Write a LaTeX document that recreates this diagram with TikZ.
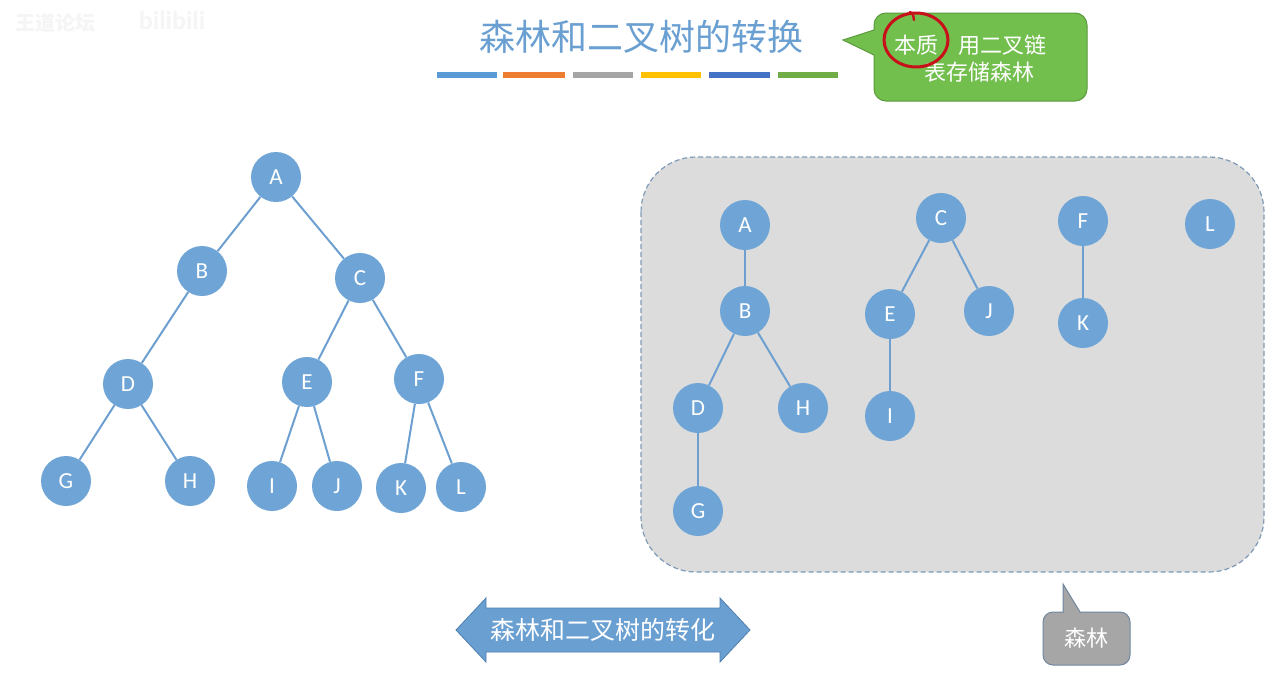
\documentclass[tikz,border=0pt]{standalone}
\usepackage{fontspec}
\setmainfont{Carlito}
\newfontfamily\cjk{Noto Sans CJK SC}
\definecolor{nodeblue}{HTML}{6FA5D6}
\definecolor{edgeblue}{HTML}{6DA0D0}
\definecolor{titleblue}{HTML}{6A9FD2}
\definecolor{boxgray}{HTML}{DCDCDC}
\definecolor{dashcol}{HTML}{7F9AB8}
\definecolor{cbBlue}{HTML}{5B9BD5}
\definecolor{cbOrange}{HTML}{ED7D31}
\definecolor{cbGray}{HTML}{A5A5A5}
\definecolor{cbYellow}{HTML}{FFC000}
\definecolor{cbDark}{HTML}{4472C4}
\definecolor{cbGreen}{HTML}{70AD47}
\definecolor{callgreen}{HTML}{72BF4E}
\definecolor{callgreenb}{HTML}{5A9A3C}
\definecolor{arrowfill}{HTML}{6A9FD2}
\definecolor{arrowline}{HTML}{4F7FB0}
\definecolor{callgray}{HTML}{A6A6A6}
\definecolor{callgrayb}{HTML}{6F86A0}
\definecolor{redmark}{HTML}{C8101A}
\tikzset{
  tnode/.style={circle, fill=nodeblue, draw=none, minimum size=50pt, inner sep=0pt, text=white, font=\fontsize{23}{23}\selectfont},
  tedge/.style={draw=edgeblue, line width=2pt},
  cbar/.style={line width=6pt},
  wtext/.style={text=white, font=\cjk\fontsize{22}{26}\selectfont}
}
\begin{document}
\begin{tikzpicture}[x=1pt,y=-1pt]
\useasboundingbox[fill=white] (0,0) rectangle (1279,678);
% watermark
\node[text=black!4, font=\cjk\fontsize{20}{20}\selectfont\bfseries] (wm1) at (55,23) {王道论坛};
\node[text=black!4, font=\fontsize{26}{26}\selectfont\bfseries] (wm2) at (172,20) {bilibili};
% title
\node[text=titleblue, font=\cjk\fontsize{36}{36}\selectfont] (title) at (641,37) {森林和二叉树的转换};
\draw[cbar, cbBlue] (437,75) -- (497,75);
\draw[cbar, cbOrange] (503,75) -- (565,75);
\draw[cbar, cbGray] (573,75) -- (633,75);
\draw[cbar, cbYellow] (641,75) -- (701,75);
\draw[cbar, cbDark] (709,75) -- (770,75);
\draw[cbar, cbGreen] (778,75) -- (838,75);
% green callout
\draw[fill=callgreen, draw=callgreenb, line width=1pt]
  (874,30) [rounded corners=12pt] -- (874,13) -- (1087,13) -- (1087,101) -- (874,101) [sharp corners] -- (874,55) -- (843,40) -- cycle;
\node[wtext, anchor=west] (cl1) at (891,45) {本质\hspace{0.9em}用二叉链};
\node[wtext] (cl2) at (979,72) {表存储森林};
\draw[redmark, line width=3pt, line cap=round] (916,40) ellipse (32pt and 27pt);
\draw[redmark, line width=2.5pt, line cap=round] (910,12) .. controls (913,14) .. (914,20);
% forest box
\draw[fill=boxgray, draw=dashcol, line width=1.2pt, dash pattern=on 5pt off 3pt, rounded corners=55pt] (641,157) rectangle (1264,572);
% left tree
\node[tnode] (A) at (276,177) {A};
\node[tnode] (B) at (202,271) {B};
\node[tnode] (C) at (360,278) {C};
\node[tnode] (D) at (128,384) {D};
\node[tnode] (E) at (307,382) {E};
\node[tnode] (F) at (419,379) {F};
\node[tnode] (G) at (66,481) {G};
\node[tnode] (H) at (190,481) {H};
\node[tnode] (I) at (272,486) {I};
\node[tnode] (J) at (337,486) {J};
\node[tnode] (K) at (401,488) {K};
\node[tnode] (L) at (461,487) {L};
% right forest
\node[tnode] (rA) at (745,225) {A};
\node[tnode] (rB) at (745,311) {B};
\node[tnode] (rD) at (698,408) {D};
\node[tnode] (rH) at (803,408) {H};
\node[tnode] (rG) at (698,511) {G};
\node[tnode] (rC) at (941,218) {C};
\node[tnode] (rE) at (890,314) {E};
\node[tnode] (rJ) at (989,311) {J};
\node[tnode] (rI) at (890,416) {I};
\node[tnode] (rF) at (1083,221) {F};
\node[tnode] (rK) at (1083,323) {K};
\node[tnode] (rL) at (1210,224) {L};
% edges
\foreach \a/\b in {A/B,A/C,B/D,C/E,C/F,D/G,D/H,E/I,E/J,F/K,F/L,rA/rB,rB/rD,rB/rH,rD/rG,rC/rE,rC/rJ,rE/rI,rF/rK}
  \draw[tedge] (\a) -- (\b);
% double arrow
\draw[fill=arrowfill, draw=arrowline, line width=0.8pt]
  (456,630) -- (486,598) -- (486,608) -- (720,608) -- (720,598) -- (750,630) -- (720,662) -- (720,652) -- (486,652) -- (486,662) -- cycle;
\node[text=white, font=\cjk\fontsize{25}{25}\selectfont] (arrtxt) at (603,630) {森林和二叉树的转化};
% gray callout
\draw[fill=callgray, draw=callgrayb, line width=1pt]
  (1063,612) [rounded corners=10pt] -- (1043,612) -- (1043,665) -- (1130,665) -- (1130,612) [sharp corners] -- (1080,612) -- (1063,584) -- cycle;
\node[text=white, font=\cjk\fontsize{22}{22}\selectfont] (gtxt) at (1086,638) {森林};
\end{tikzpicture}
\end{document}
